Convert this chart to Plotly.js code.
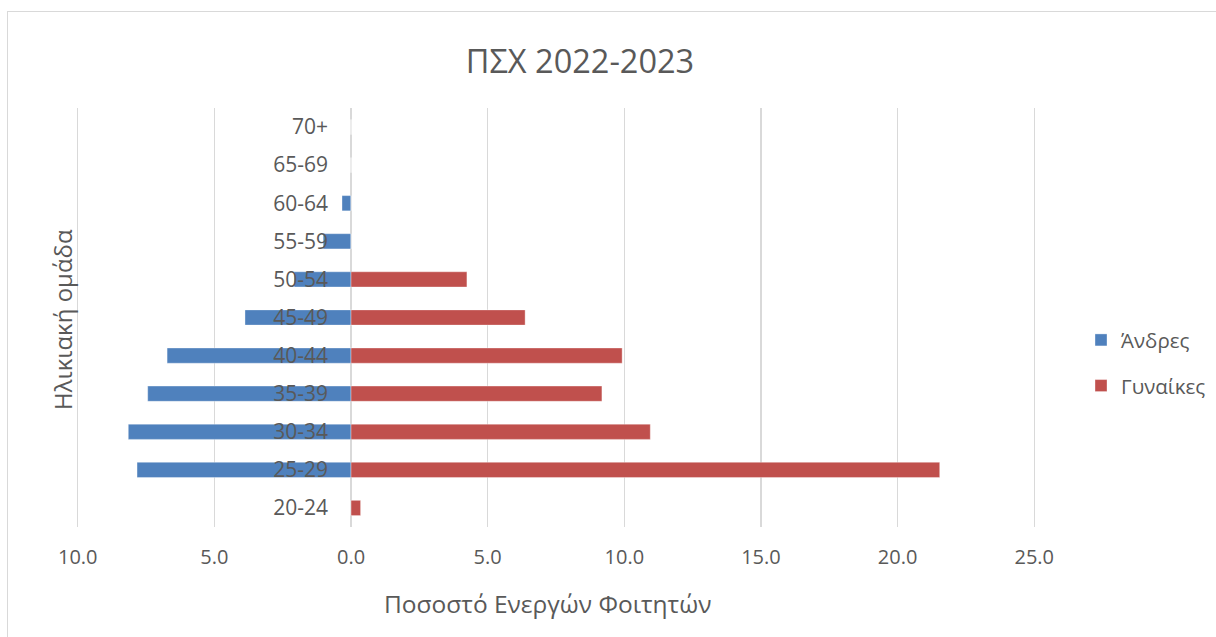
<!DOCTYPE html>
<html>
<head>
<meta charset="utf-8">
<script src="https://cdn.plot.ly/plotly-3.0.1.min.js"></script>
<style>
  html, body { margin: 0; padding: 0; background: #fff; }
  #wrap { position: relative; width: 1216px; height: 637px; overflow: hidden; }
  #chart { width: 1216px; height: 637px; }
  #frame { position: absolute; left: 7px; top: 11px; width: 1300px; height: 700px;
           border-left: 1.5px solid #d9d9d9; border-top: 1.5px solid #d9d9d9; pointer-events: none; }
</style>
</head>
<body>
<div id="wrap"><div id="chart"></div><div id="frame"></div></div>
<script>
// Age groups (bottom to top)
const ageGroups = ["20-24", "25-29", "30-34", "35-39", "40-44", "45-49", "50-54", "55-59", "60-64", "65-69", "70+"];
// Men shown as negative values (left side)
const men = [0, -7.83, -8.15, -7.44, -6.73, -3.88, -2.08, -1.02, -0.33, 0, 0];
// Women (right side)
const women = [0.35, 21.54, 10.95, 9.18, 9.92, 6.37, 4.24, 0, 0, 0, 0];
// X axis ticks
const xTickVals = [-10, -5, 0, 5, 10, 15, 20, 25];
const xTickText = ["10.0", "5.0", "0.0", "5.0", "10.0", "15.0", "20.0", "25.0"];

const font = "'Open Sans', 'Noto Sans', sans-serif";
const grey = "#595959";
const xMin = -10.1, xMax = 25.1;
const W = 1216, H = 637, mL = 75, mR = 179, mT = 108, mB = 110;
const px2x = px => (px - mL) / (W - mL - mR);
const px2y = py => (H - mB - py) / (H - mT - mB);

const traces = [
  {
    type: "bar", orientation: "h", name: "Άνδρες", legendgroup: "m",
    y: ageGroups, x: men, width: 0.4,
    marker: { color: "#4F81BD", line: { color: "rgba(255,255,255,0.35)", width: 1 } },
    hoverinfo: "skip"
  },
  {
    type: "bar", orientation: "h", name: "Γυναίκες", legendgroup: "w",
    y: ageGroups, x: women, width: 0.4,
    marker: { color: "#C0504D", line: { color: "rgba(255,255,255,0.35)", width: 1 } },
    hoverinfo: "skip"
  }
];

const layout = {
  width: W, height: H,
  margin: { l: mL, r: mR, t: mT, b: mB },
  paper_bgcolor: "#ffffff", plot_bgcolor: "#ffffff",
  font: { family: font, color: grey, size: 20 },
  barmode: "overlay",
  showlegend: true,
  title: {
    text: "ΠΣΧ 2022-2023",
    font: { family: font, size: 32.5, color: grey },
    x: 580 / W, xref: "container", xanchor: "center",
    y: 0.903, yref: "container", yanchor: "middle"
  },
  xaxis: {
    range: [xMin, xMax],
    tickvals: xTickVals, ticktext: xTickText,
    showgrid: true, gridcolor: "#d9d9d9", gridwidth: 1.5,
    zeroline: true, zerolinecolor: "#d9d9d9", zerolinewidth: 1.5,
    showline: false, ticks: "",
    ticklabelstandoff: 16,
    tickfont: { family: font, size: 20, color: grey },
    fixedrange: true
  },
  yaxis: {
    type: "category",
    categoryorder: "array", categoryarray: ageGroups,
    range: [-0.5, 10.5],
    anchor: "free", position: (0 - xMin) / (xMax - xMin), side: "left",
    showgrid: false, zeroline: false, showline: false, ticks: "",
    ticklabelstandoff: 23,
    tickfont: { family: font, size: 21, color: grey },
    fixedrange: true
  },
  legend: {
    xref: "container", yref: "container",
    x: 0.889, xanchor: "left", y: 0.43, yanchor: "middle",
    font: { family: font, size: 20.5, color: grey },
    traceorder: "grouped", tracegroupgap: 16,
    itemwidth: 30, bgcolor: "rgba(0,0,0,0)"
  },
  annotations: [
    {
      text: "Ηλικιακή ομάδα", textangle: -90,
      xref: "paper", yref: "paper", x: px2x(62), y: px2y(320),
      xanchor: "center", yanchor: "middle", showarrow: false,
      font: { family: font, size: 24, color: grey }
    },
    {
      text: "Ποσοστό Ενεργών Φοιτητών",
      xref: "paper", yref: "paper", x: px2x(547), y: px2y(603),
      xanchor: "center", yanchor: "middle", showarrow: false,
      font: { family: font, size: 24.5, color: grey }
    }
  ]
};

Plotly.newPlot("chart", traces, layout, { displayModeBar: false, staticPlot: true });
</script>
</body>
</html>
